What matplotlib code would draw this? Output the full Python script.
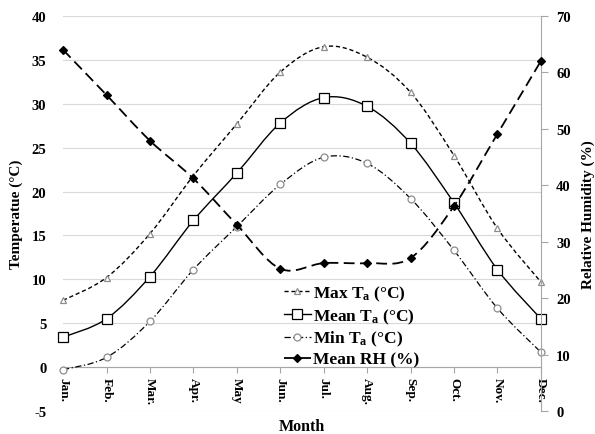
import matplotlib
matplotlib.use('Agg')
import matplotlib.pyplot as plt
from matplotlib.path import Path
from matplotlib.patches import PathPatch
from matplotlib.lines import Line2D
import numpy as np

plt.rcParams['font.family'] = ['Liberation Serif', 'DejaVu Serif']
plt.rcParams['font.weight'] = 'bold'
plt.rcParams['axes.unicode_minus'] = False
plt.rcParams['mathtext.fontset'] = 'custom'
plt.rcParams['mathtext.rm'] = 'Liberation Serif:bold'
plt.rcParams['mathtext.it'] = 'Liberation Serif:bold'
plt.rcParams['mathtext.bf'] = 'Liberation Serif:bold'

months = ['Jan.', 'Feb.', 'Mar.', 'Apr.', 'May', 'Jun.', 'Jul.', 'Aug.', 'Sep.', 'Oct.', 'Nov.', 'Dec.']
max_ta = [7.6, 10.2, 15.2, 21.8, 27.7, 33.6, 36.5, 35.3, 31.3, 24.1, 15.8, 9.7]
mean_ta = [3.4, 5.5, 10.3, 16.7, 22.1, 27.8, 30.7, 29.7, 25.5, 18.7, 11.1, 5.5]
min_ta = [-0.3, 1.1, 5.2, 11.1, 16.0, 20.8, 23.9, 23.2, 19.2, 13.3, 6.7, 1.7]
mean_rh = [64.0, 56.0, 47.9, 41.2, 33.0, 25.2, 26.2, 26.2, 27.1, 36.3, 49.1, 62.0]

x = np.arange(len(months))


def smooth_path(xs, ys):
    # Excel-like smoothed line as cubic Bezier segments through the points
    pts = np.column_stack([xs, ys]).astype(float)
    n = len(pts)
    verts = [pts[0]]
    codes = [Path.MOVETO]
    for i in range(n - 1):
        p0 = pts[i - 1] if i > 0 else pts[i]
        p1 = pts[i]
        p2 = pts[i + 1]
        p3 = pts[i + 2] if i + 2 < n else pts[i + 1]
        c1 = p1 + (p2 - p0) / 6.0
        c2 = p2 - (p3 - p1) / 6.0
        verts += [c1, c2, p2]
        codes += [Path.CURVE4] * 3
    return Path(verts, codes)


fig = plt.figure(figsize=(5.95, 4.35), dpi=100)
ax = fig.add_axes([0.106, 0.053, 0.803, 0.908])
ax2 = ax.twinx()

grey = '#8c8c8c'

styles = [
    (max_ta, ax, (0, (3, 2)), 'black', 1.0, '^', 'white', grey, 5, 'Max T$_{\\mathrm{a}}$ (°C)'),
    (mean_ta, ax, '-', 'black', 1.0, 's', 'white', 'black', 7.5, 'Mean T$_{\\mathrm{a}}$ (°C)'),
    (min_ta, ax, (0, (5, 2, 1, 2)), 'black', 0.9, 'o', 'white', grey, 5, 'Min T$_{\\mathrm{a}}$ (°C)'),
    (mean_rh, ax2, (0, (6, 3)), 'black', 1.3, 'D', 'black', 'black', 4.5, 'Mean RH (%)'),
]

handles = []
for vals, a, ls, col, lw, mk, mfc, mec, ms, lab in styles:
    patch = PathPatch(smooth_path(x, vals), facecolor='none', edgecolor=col,
                      linewidth=lw, linestyle=ls, zorder=3)
    a.add_patch(patch)
    a.plot(x, vals, linestyle='none', marker=mk, markerfacecolor=mfc,
           markeredgecolor=mec, markersize=ms, markeredgewidth=0.9, zorder=4,
           clip_on=False)
    handles.append(Line2D([], [], color=col, linestyle=ls, linewidth=lw, marker=mk,
                          markerfacecolor=mfc, markeredgecolor=mec, markersize=ms,
                          markeredgewidth=0.9))

ax.set_xlim(0, 11)
ax.set_ylim(-5, 40)
ax.set_yticks(np.arange(-5, 41, 5))
ax2.set_ylim(0, 70)
ax2.set_yticks(np.arange(0, 71, 10))

ax.grid(axis='y', color='#d9d9d9', linewidth=0.8)
ax.set_axisbelow(True)

for s in ['top', 'left', 'right']:
    ax.spines[s].set_visible(False)
for s in ['top', 'left', 'bottom']:
    ax2.spines[s].set_visible(False)
ax2.spines['right'].set_color('#a6a6a6')
ax.spines['bottom'].set_position(('data', 0))
ax.spines['bottom'].set_color('#a6a6a6')

ax.set_xticks(x)
ax.set_xticklabels(months, rotation=-90, fontsize=9.5, fontweight='bold')
ax.tick_params(axis='x', length=4, color='#a6a6a6', pad=3)
ax.tick_params(axis='y', length=0, labelsize=10.5, pad=12)
ax2.tick_params(axis='y', length=5, color='#a6a6a6', labelsize=10.5, pad=6)

ax.set_ylabel('Temperatue (°C)', fontsize=11, fontweight='bold', labelpad=6)
ax2.set_ylabel('Relative Humidity (%)', fontsize=11, fontweight='bold', labelpad=8)
ax.set_xlabel('Month', fontsize=11.5, fontweight='bold')
ax.xaxis.set_label_coords(0.5, -0.018)

leg = ax.legend(handles, [s[-1] for s in styles], loc='upper left',
                bbox_to_anchor=(0.447, 0.34), frameon=False, fontsize=12.5,
                handlelength=1.6, handletextpad=0.1, labelspacing=0.2,
                borderaxespad=0)
for t in leg.get_texts():
    t.set_fontweight('bold')

fig.savefig('out.png', dpi=100)
